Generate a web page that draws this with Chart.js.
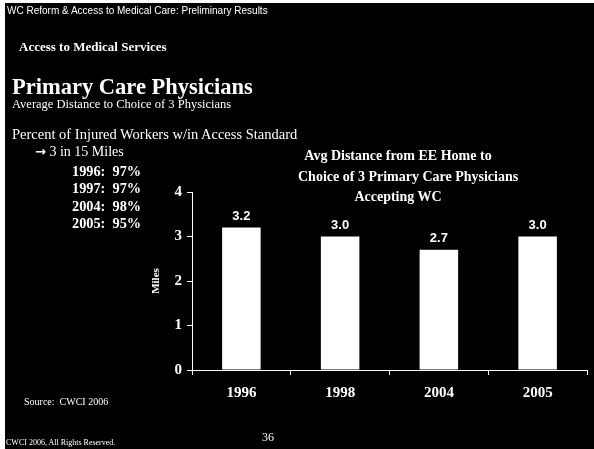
<!DOCTYPE html>
<html>
<head>
<meta charset="utf-8">
<script src="https://cdn.jsdelivr.net/npm/chart.js@4/dist/chart.umd.min.js"></script>
<style>
    html, body {
        margin: 0;
        padding: 0;
        background: #fff;
    }
    .slide {
        position: absolute;
        left: 5px;
        top: 3px;
        width: 589px;
        height: 446px;
        background: #000;
        overflow: hidden;
    }
    #chartCanvas {
        position: absolute;
        left: 0;
        top: 0;
    }
    .txt {
        position: absolute;
        color: #fff;
        font-family: "Liberation Serif", "Times New Roman", serif;
        white-space: pre;
    }
</style>
</head>
<body>
<div class="slide">
    <canvas id="chartCanvas" width="594" height="449"></canvas>
</div>
<div class="txt" style="left:7px; top:6px; font:10px/10px 'Liberation Sans', Arial, sans-serif;">WC Reform &amp; Access to Medical Care: Preliminary Results</div>
<div class="txt" style="left:19px; top:40px; font-size:13px; line-height:13px; font-weight:bold;">Access to Medical Services</div>
<div class="txt" style="left:12px; top:76px; font-size:22.5px; line-height:22px; font-weight:bold;">Primary Care Physicians</div>
<div class="txt" style="left:12px; top:98px; font-size:12.5px; line-height:13px;">Average Distance to Choice of 3 Physicians</div>
<div class="txt" style="left:12px; top:127px; font-size:14.5px; line-height:14px;">Percent of Injured Workers w/in Access Standard</div>
<div class="txt" style="left:35px; top:145px; font-size:14px; line-height:14px;"><span style="font-family:'DejaVu Sans', sans-serif; font-weight:bold; font-size:13px;">&rarr;</span> 3 in 15 Miles</div>
<div id="pctList"></div>
<div class="txt" style="left:298px; top:146px; width:200px; text-align:center; font-size:14px; line-height:20.5px; font-weight:bold;">Avg Distance from EE Home to<br>Choice of 3 Primary Care Physicians<br>Accepting WC</div>
<div class="txt" style="left:24px; top:397px; font-size:10px; line-height:10px;">Source:  CWCI 2006</div>
<div class="txt" style="left:262px; top:431px; font-size:12px; line-height:12px;">36</div>
<div class="txt" style="left:6px; top:439px; font-size:8px; line-height:8px;">CWCI 2006, All Rights Reserved.</div>

<script>
// Chart data
const years = ['1996', '1998', '2004', '2005'];
const avgMiles = [3.2, 3.0, 2.7, 3.0];
const yTicks = [0, 1, 2, 3, 4];

// Access standard list
const pctYears = ['1996', '1997', '2004', '2005'];
const pctWithin = [97, 97, 98, 95];

// Build the percent list
const pctList = document.getElementById('pctList');
pctYears.forEach((yr, i) => {
    const div = document.createElement('div');
    div.className = 'txt';
    div.style.cssText = 'left:72px; top:' + (164 + i * 17.3) + 'px; font-size:14.3px; line-height:14px; font-weight:bold;';
    div.textContent = yr + ':  ' + pctWithin[i] + '%';
    pctList.appendChild(div);
});

// Value labels above bars
const barLabels = {
    id: 'barLabels',
    afterDatasetsDraw(chart) {
        const ctx = chart.ctx;
        const meta = chart.getDatasetMeta(0);
        ctx.save();
        ctx.fillStyle = '#fff';
        ctx.font = 'bold 13px "Liberation Sans", Arial, sans-serif';
        ctx.textAlign = 'center';
        ctx.textBaseline = 'alphabetic';
        meta.data.forEach((bar, i) => {
            ctx.fillText(avgMiles[i].toFixed(1), bar.x, bar.y - 8);
        });
        ctx.restore();
    }
};

const serifBold = (size) => ({ family: '"Liberation Serif", "Times New Roman", serif', size: size, weight: 'bold' });

new Chart(document.getElementById('chartCanvas').getContext('2d'), {
    type: 'bar',
    data: {
        labels: years,
        datasets: [{
            data: avgMiles,
            backgroundColor: '#fff',
            borderWidth: 0,
            categoryPercentage: 1,
            barPercentage: 0.39
        }]
    },
    options: {
        responsive: false,
        animation: false,
        layout: {
            padding: { left: 145, top: 189, right: 12, bottom: 42 }
        },
        plugins: {
            legend: { display: false },
            tooltip: { enabled: false }
        },
        scales: {
            y: {
                min: 0,
                max: 4,
                afterBuildTicks: (scale) => {
                    scale.ticks = yTicks.map(v => ({ value: v }));
                },
                afterFit: (scale) => {
                    scale.width = 42;
                },
                grid: {
                    drawOnChartArea: false,
                    color: '#fff',
                    tickLength: 5
                },
                border: { color: '#fff', width: 1 },
                ticks: {
                    color: '#fff',
                    font: serifBold(15),
                    padding: 5
                },
                title: {
                    display: true,
                    text: 'Miles',
                    color: '#fff',
                    font: serifBold(11),
                    padding: 0
                }
            },
            x: {
                afterFit: (scale) => {
                    scale.height = 40;
                },
                grid: {
                    drawOnChartArea: false,
                    offset: true,
                    color: '#fff',
                    tickLength: 5
                },
                border: { color: '#fff', width: 1 },
                ticks: {
                    color: '#fff',
                    font: serifBold(15),
                    padding: 9
                }
            }
        }
    },
    plugins: [barLabels]
});
</script>
</body>
</html>
